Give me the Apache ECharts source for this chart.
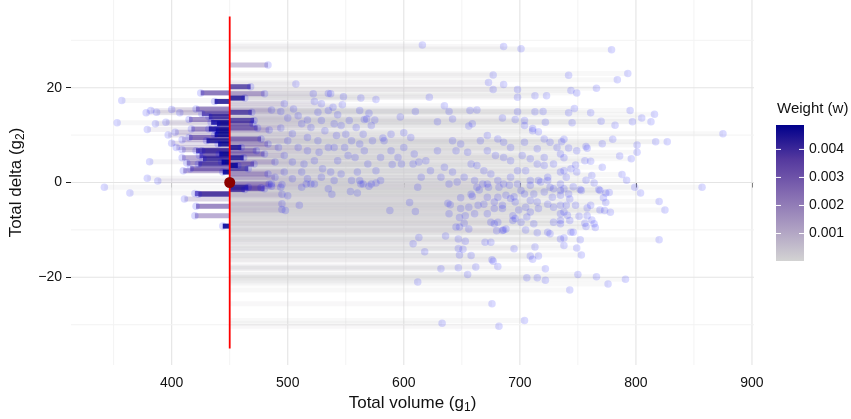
<!DOCTYPE html>
<html><head><meta charset="utf-8">
<script src="https://cdn.jsdelivr.net/npm/echarts@6/dist/echarts.min.js"></script>
<style>html,body{margin:0;padding:0;background:#fff}#c{width:851px;height:419px}</style>
</head><body><div id="c"></div>
<script>
// ---- axes / reference ----
const xTicks = [400, 500, 600, 700, 800, 900];
const xMinor = [350, 450, 550, 650, 750, 850];
const yTicks = [-20, 0, 20];
const yMinor = [-30, -10, 10, 30];
const xRange = [313.25, 901.75];
const yRange = [-38.5, 38.5];
const refPoint = [450, 0];
const refLineY = [-35, 35];
const legendTicks = [0.001, 0.002, 0.003, 0.004];
const weightLimits = [0.00002, 0.00487];
const gradientColors = ['#D3D3D3', '#AC9DC2', '#836AB1', '#54389E', '#00008B'];

// ---- data: [g1 (volume), g2 (delta), w (weight)] ----
const leftPts = [
[425,18.9,0.0035],[437,17.1,0.0045],[357,17.3,0.0002],[378,14.7,0.0005],[382,15.2,0.0006],[387,14.8,0.0008],
[400,15.4,0.0010],[407,14.7,0.0012],[421,15.5,0.0030],[353,12.6,0.0002],[379,11.2,0.0005],[386,12.4,0.0007],
[395,12.7,0.0009],[397,10.0,0.0010],[403,10.6,0.0015],[409,9.0,0.0018],[400,8.3,0.0012],[404,7.4,0.0015],
[409,6.9,0.0020],[415,13.3,0.0030],[417,11.3,0.0030],[415,9.5,0.0035],[426,14.5,0.0038],[432,13.9,0.0042],
[434,12.7,0.0045],[381,4.4,0.0004],[409,5.2,0.0025],[413,4.1,0.0030],[410,2.5,0.0025],[416,2.9,0.0035],
[379,0.9,0.0003],[388,0.3,0.0006],[342,-1.0,0.0001],[426,6.7,0.0040],[424,5.7,0.0038],[423,3.9,0.0040],
[430,8.8,0.0045],[432,11.3,0.0045],[437,10.1,0.0047],[439,12.4,0.0046],[440,8.1,0.0047],[441,6.0,0.0047],
[443,4.3,0.0048],[444,2.2,0.0048],[420,-2.3,0.0035],[423,-2.5,0.0040],[411,-3.5,0.0015],[421,-5.0,0.0032],
[420,-7.0,0.0025],[444,-9.2,0.0048],[364,-2.2,0.0002],[427,5.0,0.0042],[421,6.7,0.0040],[438,10.9,0.0046]
];
const nearPts = [
[483,24.8,0.0020],[507,20.8,0.0003],[468,20.2,0.0040],[480,18.7,0.0025],[463,17.8,0.0045],[469,14.8,0.0040],
[471,13.1,0.0040],[477,9.2,0.0035],[462,5.2,0.0045],[466,2.9,0.0040],[457,3.6,0.0047],[474,11.5,0.0035],
[460,7.4,0.0045],[480,6.0,0.0030],[483,1.8,0.0025],[484,-0.3,0.0025],[471,3.9,0.0035],[473,6.7,0.0030],
[483,8.1,0.0025],[470,12.4,0.0035],[463,-1.5,0.0040],[477,-1.1,0.0030],[486,-0.8,0.0020],[480,-1.3,0.0035],
[466,-1.0,0.0042],[486,15.3,0.0015],[494,15.0,0.0010],[497,16.6,0.0010],[484,11.1,0.0020],[494,11.5,0.0012],
[492,7.4,0.0015],[489,4.3,0.0018],[489,1.1,0.0018],[486,-0.3,0.0015],[494,-1.0,0.0012],[497,5.7,0.0012],
[497,2.2,0.0012],[500,8.8,0.0010],[500,13.6,0.0008],[495,-0.4,0.0012],[495,-2.5,0.0010],[500,-2.8,0.0008],
[495,-4.5,0.0010],[498,-5.9,0.0008],[495,-5.7,0.0009]
];
const cloudA = [
[522,18.7,0.0004],[529,16.6,0.0004],[523,17.1,0.0004],[535,18.8,0.0003],[505,15.5,0.0007],[509,14.1,0.0007],
[517,13.2,0.0005],[526,14.8,0.0004],[535,15.2,0.0003],[512,12.4,0.0006],[520,11.6,0.0005],[529,13.1,0.0004],
[532,10.9,0.0003],[504,10.3,0.0008],[517,9.5,0.0005],[526,8.8,0.0004],[509,7.4,0.0007],[517,6.7,0.0005],
[527,6.4,0.0004],[535,7.4,0.0003],[504,4.3,0.0008],[514,3.9,0.0006],[523,4.6,0.0004],[530,2.9,0.0004],
[512,2.2,0.0006],[504,0.8,0.0008],[517,0.8,0.0005],[529,1.1,0.0004],[537,2.2,0.0003],[523,-0.3,0.0004],
[512,-1.0,0.0006],[535,-1.3,0.0003],[516,-0.3,0.0005],[520,-0.3,0.0005],[510,-4.8,0.0006],
[538,-2.5,0.0003],[554,-1.9,0.0002],[560,-2.2,0.0002],[562,0.4,0.0002],[565,-0.3,0.0002],[570,-0.8,0.0002],
[576,-0.1,0.0002],[588,-5.9,0.00015],[605,-4.2,0.0001],[610,-6.1,0.0001],[613,-11.6,0.0001],[608,-12.9,0.0001],
[618,-14.6,0.0001],[612,-21.0,0.0001],[632,-18.2,0.00008],[633,-29.7,0.00005],[636,-11.3,0.0001],[638,-4.4,0.0001],
[640,-4.7,0.0001],[639,-6.6,0.0001],[639,-0.3,0.0001],
[537,18.7,0.0003],[539,15.9,0.0003],[543,14.3,0.0003],[546,12.0,0.0003],[542,9.9,0.0003],[550,10.2,0.0003],
[553,13.1,0.0002],[555,8.8,0.0002],[540,7.4,0.0003],[549,7.4,0.0003],[543,4.6,0.0003],[552,5.7,0.0002],
[559,11.6,0.0002],[565,10.2,0.0002],[568,13.4,0.0002],[572,12.0,0.0002],[573,8.8,0.0002],[562,8.1,0.0002],
[566,6.7,0.0002],[558,5.3,0.0002],[569,3.9,0.0002],[560,2.2,0.0002],[546,1.8,0.0003],[555,0.4,0.0002],
[563,-0.3,0.0002],[572,-0.3,0.0002],[580,0.4,0.00015],[576,2.5,0.00015],[580,5.3,0.00015],[589,6.7,0.00015],
[595,5.3,0.00012],[600,7.4,0.00012],[606,9.5,0.0001],[598,3.9,0.00012],[608,3.9,0.0001],[613,4.3,0.0001],
[619,4.6,0.0001],[623,2.5,0.0001],[629,6.7,0.0001],[635,3.2,0.0001],[632,1.1,0.0001],[540,0.4,0.0003],
[615,1.1,0.0001],[612,-1.0,0.0001],[609,6.0,0.0001],[589,10.2,0.00015],[583,8.8,0.00015],[590,3.8,0.00015],
[616,29.0,0.0001],[622,18.0,0.0001],[576,17.5,0.00015],[563,17.8,0.0002],[548,18.1,0.0003],[547,16.4,0.0003],
[635,16.2,0.0001],[610,15.0,0.0001],[639,15.0,0.0001],[562,15.2,0.0002],[570,14.6,0.0002],[597,13.8,0.00012],
[629,12.8,0.0001],[575,13.2,0.00015],[566,13.3,0.0002],[540,12.4,0.0003],[600,10.5,0.00012],[582,9.4,0.00015]
];
const cloudB = [
[642,2.2,0.0001],[645,6.7,0.0001],[642,8.8,0.0001],[649,8.1,0.0001],[655,6.4,0.0001],[658,3.9,0.0001],
[663,3.6,0.0001],[669,2.5,0.0001],[652,1.1,0.0001],[661,0.4,0.0001],[668,-0.3,0.0001],[675,1.8,0.00008],
[681,0.4,0.00008],[686,-0.3,0.00008],[692,1.1,0.00008],[698,2.5,0.00008],[705,2.5,0.00006],[709,0.4,0.00006],
[716,0.4,0.00006],[724,1.1,0.00006],[726,-1.0,0.00006],[735,-0.3,0.00005],[715,3.9,0.00006],[721,5.3,0.00006],
[709,5.0,0.00006],[702,5.7,0.00006],[692,4.6,0.00008],[686,5.3,0.00008],[679,5.7,0.00008],[672,6.7,0.00008],
[666,8.8,0.0001],[672,9.9,0.00008],[681,9.2,0.00008],[686,8.5,0.00008],[692,7.4,0.00008],[704,8.5,0.00006],
[715,7.1,0.00006],[726,8.5,0.00006],[732,7.4,0.00005],[721,9.2,0.00006],[711,10.9,0.00006],[704,12.0,0.00006],
[646,0.1,0.0001],[721,3.6,0.00006],[729,3.9,0.00005],[698,-0.3,0.00008],[682,-1.0,0.00008],[673,-1.0,0.00008],
[663,-1.0,0.0001],
[686,28.7,0.00008],[701,28.2,0.00006],[677,22.7,0.00008],[673,21.1,0.00008],[686,20.7,0.00008],[677,19.6,0.00008],
[698,19.6,0.00008],[698,18.0,0.00008],[713,18.3,0.00006],[723,18.3,0.00006],[657,15.2,0.0001],[663,15.3,0.0001],
[698,14.9,0.00008],[713,14.9,0.00006],[720,15.0,0.00006],[642,13.4,0.0001],[685,13.6,0.00008],[696,13.3,0.00008],
[704,13.1,0.00006],[722,12.7,0.00006],[656,11.9,0.0001],[659,12.4,0.0001],[711,11.4,0.00006],[716,10.7,0.00006],
[779,28.0,0.00004],[742,22.6,0.00005],[784,21.7,0.00004],[793,23.0,0.00004],[766,19.9,0.00004],[744,19.4,0.00005],
[749,18.9,0.00005],[747,15.6,0.00005],[742,14.7,0.00005],[761,14.7,0.00004],[795,15.2,0.00004],[816,14.4,0.00003],
[805,13.6,0.00003],[813,12.8,0.00003],[797,12.8,0.00004],[770,12.9,0.00004],[782,12.1,0.00004],[745,12.6,0.00005],
[875,10.3,0.00002],[738,9.1,0.00005],[736,8.6,0.00005],[780,9.1,0.00004],[817,8.6,0.00003],[827,8.6,0.00003],
[771,8.2,0.00004],[801,7.9,0.00004],[801,6.4,0.00004],[757,7.6,0.00005],[758,7.2,0.00005],[742,7.3,0.00005],
[749,6.7,0.00005],[786,5.6,0.00004],[796,5.0,0.00004],[738,5.2,0.00005],[756,4.6,0.00005],[761,4.5,0.00004],
[735,6.0,0.00005],[771,3.2,0.00004],[748,3.7,0.00005],[744,2.9,0.00005],[749,2.2,0.00005],[738,2.5,0.00005],
[740,1.1,0.00005],[735,2.2,0.00005],[788,1.7,0.00004],[757,0.5,0.00005],[762,1.5,0.00004],[764,-0.1,0.00004],
[792,0.5,0.00004],[799,-1.0,0.00004],[857,-1.0,0.00002],[746,-0.9,0.00005],[752,-1.5,0.00005],[738,-1.3,0.00005],
[768,-1.5,0.00004],
[804,-2.2,0.00004],[735,-1.7,0.00005],[742,-2.4,0.00005],[753,-1.7,0.00005],[769,-1.7,0.00004],[774,-2.2,0.00004],
[777,-2.1,0.00004],[772,-3.2,0.00004],[774,-4.2,0.00004],[743,-3.5,0.00005],[735,-2.7,0.00005],[748,-4.8,0.00005],
[740,-4.8,0.00005],[761,-4.8,0.00004],[758,-5.4,0.00005],[820,-4.0,0.00003],[825,-5.8,0.00003],[769,-5.8,0.00004],
[773,-5.9,0.00004],[778,-6.3,0.00004],[738,-6.2,0.00005],[735,-6.6,0.00005],[741,-6.9,0.00005],[751,-7.1,0.00005],
[758,-7.0,0.00005],[762,-7.9,0.00004],[743,-8.0,0.00005],[756,-8.6,0.00005],[764,-8.7,0.00004],[765,-9.5,0.00004],
[757,-9.3,0.00005],[735,-8.7,0.00005],[744,-10.5,0.00005],[746,-10.5,0.00005],[735,-11.9,0.00005],[738,-11.7,0.00005],
[752,-12.1,0.00005],[820,-12.1,0.00003],[738,-13.3,0.00005],[749,-13.8,0.00005],[753,-15.3,0.00005],[750,-19.4,0.00005],
[766,-19.9,0.00004],[791,-20.4,0.00004],[776,-21.4,0.00004],[743,-22.7,0.00005],
[649,-3.2,0.0001],[658,-2.5,0.0001],[659,-2.9,0.0001],[664,-4.8,0.0001],[669,-4.6,0.0001],[678,-4.1,0.00008],
[685,-4.8,0.00008],[681,-3.1,0.00008],[688,-2.7,0.00008],[695,-3.0,0.00008],[701,-1.7,0.00006],[704,-2.4,0.00006],
[672,-3.1,0.00008],[665,-1.6,0.0001],[672,-0.3,0.00008],[691,-0.6,0.00008],[709,-0.6,0.00006],[718,0.1,0.00006],
[724,0.4,0.00006],[729,-1.3,0.00005],[721,-2.0,0.00006],[712,-2.4,0.00006],[728,-3.1,0.00005],[724,-4.6,0.00006],
[729,-5.2,0.00005],[735,-4.8,0.00005],[649,-5.5,0.0001],[656,-5.2,0.0001],[661,-6.6,0.0001],[653,-7.0,0.0001],
[648,-7.4,0.0001],[652,-8.6,0.0001],[645,-9.4,0.0001],[648,-9.4,0.0001],[656,-9.8,0.0001],[672,-6.6,0.00008],
[678,-5.5,0.00008],[685,-5.5,0.00008],[694,-7.0,0.00008],[699,-5.8,0.00008],[705,-5.2,0.00006],[709,-6.2,0.00006],
[716,-5.5,0.00006],[675,-8.4,0.00008],[678,-8.7,0.00008],[681,-8.4,0.00008],[686,-10.0,0.00008],[680,-10.2,0.00008],
[685,-10.1,0.00008],[688,-9.8,0.00008],[694,-8.0,0.00008],[696,-7.6,0.00008],[701,-8.4,0.00006],[706,-7.3,0.00006],
[712,-8.7,0.00006],[705,-10.0,0.00006],[715,-10.6,0.00006],[724,-10.5,0.00006],[726,-10.8,0.00005],[729,-8.4,0.00005],
[735,-8.0,0.00005],[647,-11.9,0.0001],[653,-12.4,0.0001],[647,-13.9,0.0001],[651,-14.1,0.0001],[658,-15.4,0.0001],
[648,-15.3,0.0001],[670,-12.6,0.00008],[675,-12.6,0.00008],[676,-16.3,0.00008],[677,-16.6,0.00008],[681,-17.7,0.00008],
[695,-14.0,0.00008],[662,-17.8,0.0001],[655,-19.4,0.0001],[647,-18.0,0.0001],[709,-15.5,0.00006],[711,-16.2,0.00006],
[716,-15.5,0.00006],[713,-13.6,0.00006],[722,-18.2,0.00006],[706,-20.1,0.00006],[715,-20.1,0.00006],[722,-20.6,0.00006],
[676,-25.6,0.00008],[682,-30.3,0.00008],[704,-29.1,0.00006],[709,-3.8,0.00006],[715,-4.1,0.00006],[696,-4.1,0.00008],
[692,-3.4,0.00008]
];

// ---- build ----
const allPts = leftPts.concat(nearPts, cloudA, cloudB);
const segData = allPts.slice().sort((a, b) => a[2] - b[2]);
const wSpan = weightLimits[1] - weightLimits[0];
function wNorm(w) { return Math.max(0, Math.min(1, (w - weightLimits[0]) / wSpan)); }
function colorAt(t) { return echarts.color.lerp(t, gradientColors); }

const gridItems = [];
xTicks.forEach(v => gridItems.push([v, 0, 1, 0]));
xMinor.forEach(v => gridItems.push([v, 0, 0, 0]));
yTicks.forEach(v => gridItems.push([refPoint[0], v, 1, 1]));
yMinor.forEach(v => gridItems.push([refPoint[0], v, 0, 1]));

const chart = echarts.init(document.getElementById('c'), null, {renderer: 'canvas'});
const txt = '#111111';
const FONT = 'Liberation Sans, Arial, Helvetica, sans-serif';

// legend graphic
const barX = 776, barY = 125, barW = 28, barH = 136;
const legendEls = [
  {type: 'text', left: 777, top: 101, style: {text: 'Weight (w)', fontSize: 15, fill: txt, fontFamily: FONT}},
  {type: 'rect', shape: {x: barX, y: barY, width: barW, height: barH},
   style: {fill: new echarts.graphic.LinearGradient(0, 0, 0, 1,
     gradientColors.slice().reverse().map((c, i, arr) => ({offset: i / (arr.length - 1), color: c})))}}
];
legendTicks.forEach(v => {
  const yy = barY + (weightLimits[1] - v) / wSpan * barH;
  legendEls.push({type: 'line', shape: {x1: barX, y1: yy, x2: barX + 5, y2: yy}, style: {stroke: '#ffffff', lineWidth: 1}});
  legendEls.push({type: 'line', shape: {x1: barX + barW - 5, y1: yy, x2: barX + barW, y2: yy}, style: {stroke: '#ffffff', lineWidth: 1}});
  legendEls.push({type: 'text', x: 809, y: yy, style: {text: v.toFixed(3), fontSize: 14, fill: txt, fontFamily: FONT, verticalAlign: 'middle'}});
});

chart.setOption({
  animation: false,
  backgroundColor: '#ffffff',
  textStyle: {fontFamily: FONT},
  grid: {left: 69, right: 97, top: 0, bottom: 54, containLabel: false},
  xAxis: {
    type: 'value', min: xRange[0], max: xRange[1],
    axisLine: {show: false},
    axisTick: {show: true, customValues: xTicks, length: 5, lineStyle: {color: '#1a1a1a', width: 1}},
    axisLabel: {customValues: xTicks, fontSize: 14, color: txt, margin: 11},
    splitLine: {show: false},
    name: '{a|Total volume (g}{s|1}{a|)}', nameLocation: 'middle', nameGap: 27,
    nameTextStyle: {rich: {a: {fontSize: 17, color: txt, fontFamily: FONT}, s: {fontSize: 12, color: txt, fontFamily: FONT, padding: [9, 0, 0, 0]}}}
  },
  yAxis: {
    type: 'value', min: yRange[0], max: yRange[1],
    axisLine: {show: false},
    axisTick: {show: true, customValues: yTicks, length: 5, lineStyle: {color: '#1a1a1a', width: 1}},
    axisLabel: {customValues: yTicks, fontSize: 14, color: txt, margin: 9,
      formatter: v => (v < 0 ? '\u2212' + Math.abs(v) : String(v))},
    splitLine: {show: false},
    name: '{a|Total delta (g}{s|2}{a|)}', nameLocation: 'middle', nameGap: 44,
    nameTextStyle: {rich: {a: {fontSize: 17, color: txt, fontFamily: FONT}, s: {fontSize: 12, color: txt, fontFamily: FONT, padding: [9, 0, 0, 0]}}}
  },
  graphic: legendEls,
  series: [
    {
      type: 'custom', z: 1, silent: true, data: gridItems,
      renderItem: (params, api) => {
        const cs = params.coordSys;
        const major = api.value(2) === 1;
        const stroke = major ? '#e4e4e4' : '#f3f3f3';
        if (api.value(3) === 0) {
          const x = api.coord([api.value(0), 0])[0];
          return {type: 'line', shape: {x1: x, y1: cs.y, x2: x, y2: cs.y + cs.height}, style: {stroke, lineWidth: major ? 1.1 : 1}};
        }
        const y = api.coord([0, api.value(1)])[1];
        return {type: 'line', shape: {x1: cs.x, y1: y, x2: cs.x + cs.width, y2: y}, style: {stroke, lineWidth: major ? 1.1 : 1}};
      }
    },
    {
      type: 'custom', z: 2, silent: true, data: segData,
      renderItem: (params, api) => {
        const p0 = api.coord([refPoint[0], api.value(1)]);
        const p1 = api.coord([api.value(0), api.value(1)]);
        const t = wNorm(api.value(2));
        const h = 5;
        return {type: 'rect',
          shape: {x: Math.min(p0[0], p1[0]), y: p0[1] - h / 2, width: Math.abs(p1[0] - p0[0]), height: h},
          style: {fill: colorAt(t), opacity: 0.15 + 0.75 * t}};
      }
    },
    {
      type: 'scatter', z: 3, silent: true, data: allPts.map(p => [p[0], p[1]]),
      symbol: 'circle', symbolSize: 7.5,
      itemStyle: {color: 'rgba(0,0,255,0.18)', borderWidth: 0}
    },
    {
      type: 'line', z: 4, silent: true, data: [[refPoint[0], refLineY[0]], [refPoint[0], refLineY[1]]],
      symbol: 'none', lineStyle: {color: '#ff0000', width: 1.8}
    },
    {
      type: 'scatter', z: 5, silent: true, data: [refPoint],
      symbol: 'circle', symbolSize: 11, itemStyle: {color: '#8B0000', opacity: 1, borderWidth: 0}
    }
  ]
});
</script></body></html>
